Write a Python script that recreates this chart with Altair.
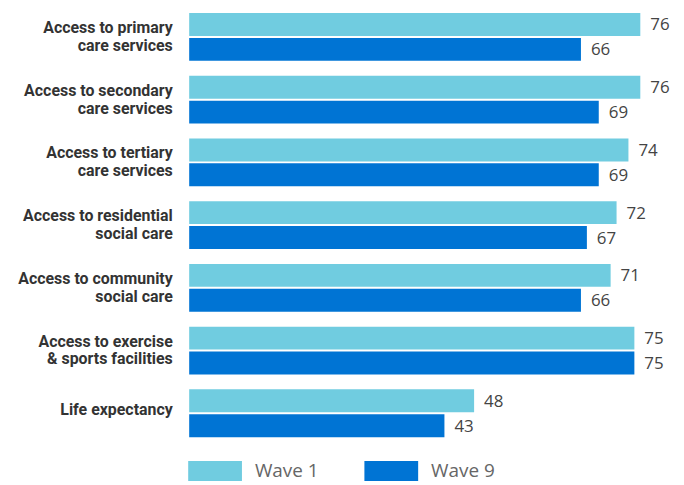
import altair as alt
import pandas as pd

categories = [
    "Access to primary\ncare services",
    "Access to secondary\ncare services",
    "Access to tertiary\ncare services",
    "Access to residential\nsocial care",
    "Access to community\nsocial care",
    "Access to exercise\n& sports facilities",
    "Life expectancy",
]
wave1 = [76, 76, 74, 72, 71, 75, 48]
wave9 = [66, 69, 69, 67, 66, 75, 43]
waves = ["Wave 1", "Wave 9"]
colors = ["#70CCE0", "#0074D4"]

rows = []
for c, a, b in zip(categories, wave1, wave9):
    rows.append({"cat": c, "wave": "Wave 1", "value": a})
    rows.append({"cat": c, "wave": "Wave 9", "value": b})
df = pd.DataFrame(rows)

y = alt.Y("cat:N", sort=categories, title=None,
          scale=alt.Scale(paddingInner=15/63, paddingOuter=0),
          axis=alt.Axis(domain=False, ticks=False, tickSize=0, labelPadding=17,
                        labelExpr="split(datum.label, '\\n')",
                        labelOffset={"condition": {"test": "indexof(datum.value, '\\n') >= 0", "value": -9},
                                     "value": -3},
                        labelFont="Roboto", labelFontWeight="bold", labelFontSize=16,
                        labelColor="#333333", labelLineHeight=18, labelLimit=300))
yoff = alt.YOffset("wave:N", sort=waves, scale=alt.Scale(paddingInner=0.08, paddingOuter=0))
x = alt.X("value:Q", axis=None, scale=alt.Scale(domain=[0, 80], nice=False))

bars = alt.Chart(df).mark_bar().encode(
    x=x, y=y, yOffset=yoff,
    color=alt.Color("wave:N", sort=waves, title=None,
                    scale=alt.Scale(domain=waves, range=colors),
                    legend=alt.Legend(orient="none", direction="horizontal",
                                      legendX=-1, legendY=433, padding=0,
                                      symbolType="M-1,-0.37H1V0.37H-1Z", symbolSize=2916,
                                      symbolStrokeWidth=0, symbolOpacity=1,
                                      labelFont="Open Sans", labelFontSize=19,
                                      labelColor="#666666", labelOffset=13,
                                      columnPadding=45, labelLimit=200)),
)

text = alt.Chart(df).mark_text(align="left", baseline="middle", dx=10, dy=1,
                               font="Open Sans", fontSize=17, color="#444444").encode(
    x=x, y=y, yOffset=yoff, text="value:Q")

chart = (bars + text).properties(
    width=477, height=426,
    autosize=alt.AutoSizeParams(type="none"),
    padding={"left": 182, "top": 4, "right": 12, "bottom": 47},
).configure_view(stroke=None)

chart.save("out.html", embed_options={"renderer": "svg", "actions": False})
